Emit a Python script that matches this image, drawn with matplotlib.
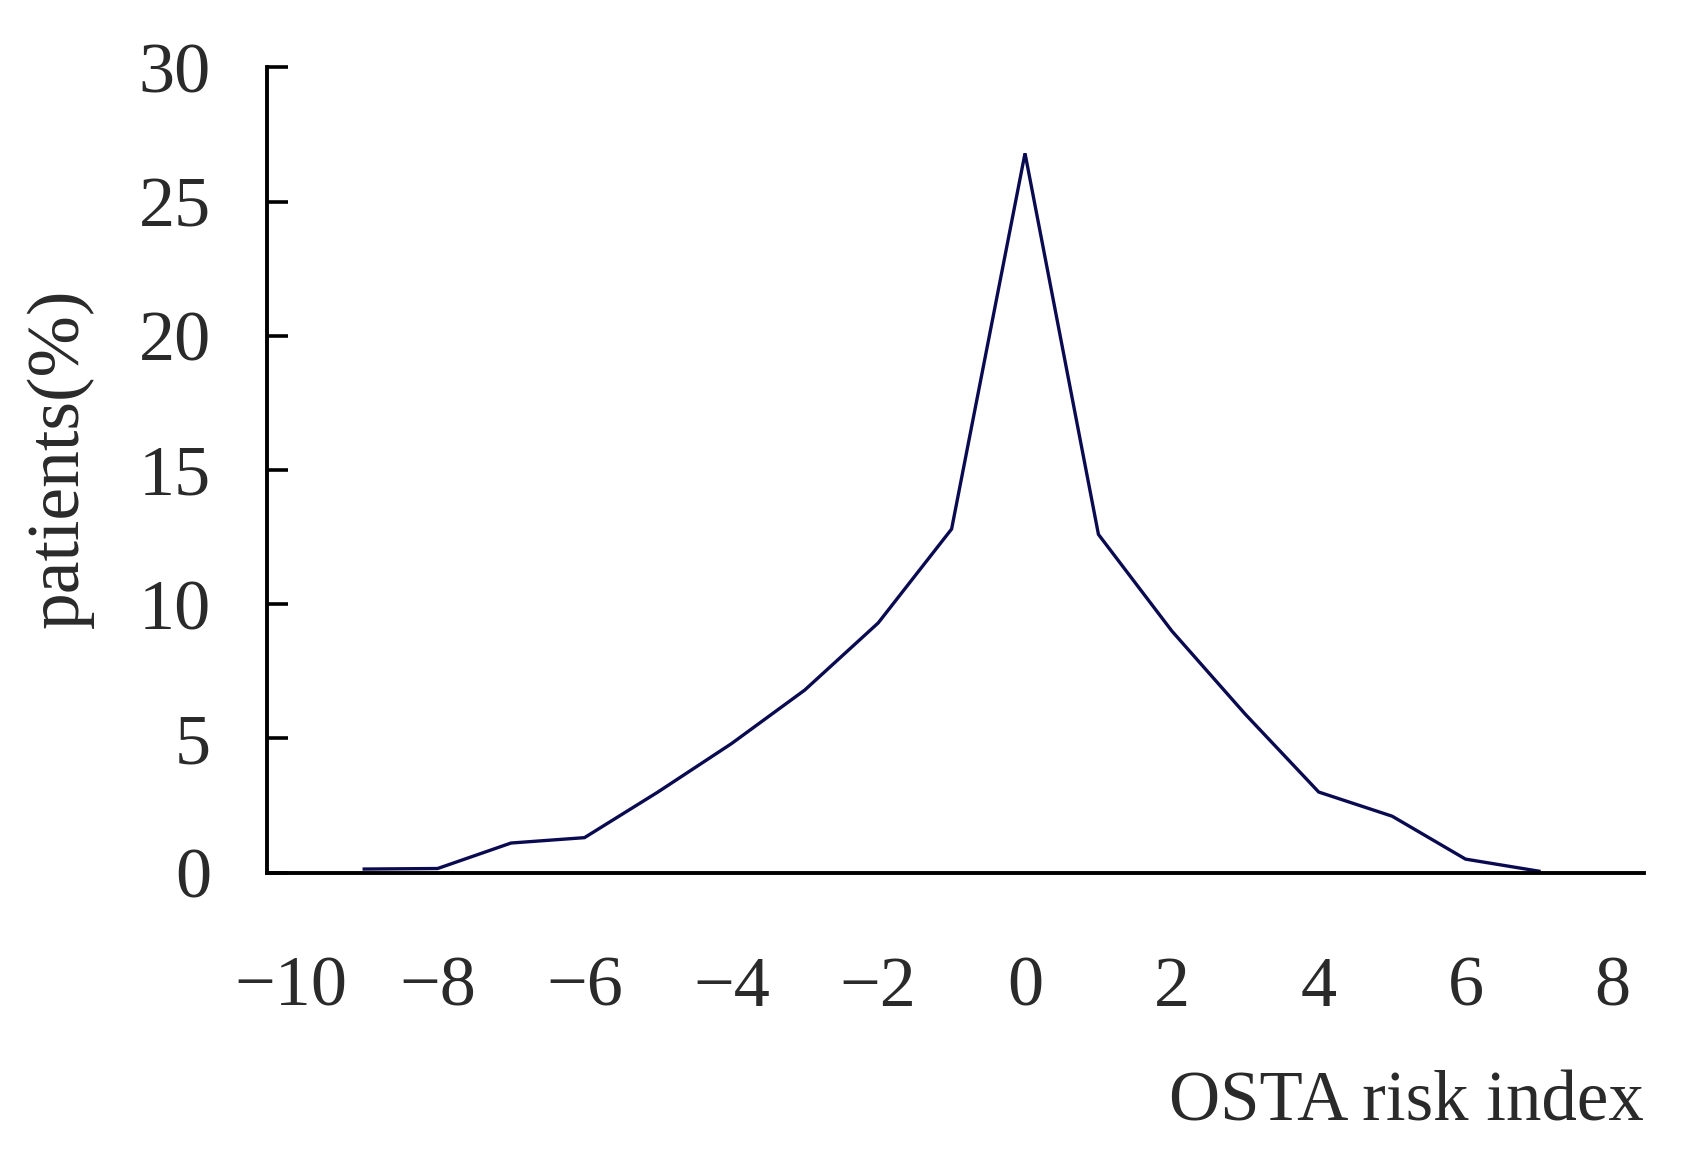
import matplotlib
matplotlib.use('Agg')
import matplotlib.pyplot as plt

# OSTA risk index vs share of patients
osta_index = [-9, -8, -7, -6, -5, -4, -3, -2, -1, 0, 1, 2, 3, 4, 5, 6, 7]
patients_pct = [0.13, 0.15, 1.1, 1.3, 3.0, 4.8, 6.8, 9.3, 12.8, 26.8,
                12.6, 9.0, 5.9, 3.0, 2.1, 0.5, 0.05]

x_ticks = [-10, -8, -6, -4, -2, 0, 2, 4, 6, 8]
y_ticks = [0, 5, 10, 15, 20, 25, 30]

plt.rcParams['font.family'] = ['Liberation Serif', 'DejaVu Serif']

fig = plt.figure(figsize=(16.87, 11.69), dpi=100)
ax = fig.add_axes([0.158, 0.2536, 0.8165, 0.6887])

ax.plot(osta_index, patients_pct, color='#0a0a50', linewidth=2.4,
        solid_joinstyle='miter')

ax.set_xlim(-10.33, 8.43)
ax.set_ylim(0, 30)
ax.set_xticks(x_ticks)
ax.set_yticks(y_ticks)

for s in ['top', 'right']:
    ax.spines[s].set_visible(False)
for s in ['left', 'bottom']:
    ax.spines[s].set_linewidth(2.8)
    ax.spines[s].set_color('black')

ax.tick_params(axis='y', direction='in', length=15, width=2.6,
               labelsize=52, pad=40, labelcolor='#2a2a2a')
ax.tick_params(axis='x', length=0, labelsize=52, pad=60,
               labelcolor='#2a2a2a')

ax.set_xlabel('OSTA risk index', fontsize=51, color='#2a2a2a')
ax.xaxis.set_label_coords(1.0, -0.286)
ax.xaxis.label.set_ha('right')
ax.xaxis.label.set_va('center')

ax.set_ylabel('patients(%)', fontsize=53, color='#2a2a2a')
ax.yaxis.set_label_coords(-0.150, 0.514)
ax.yaxis.label.set_va('center')

fig.savefig('out.png', dpi=100, facecolor='white')
